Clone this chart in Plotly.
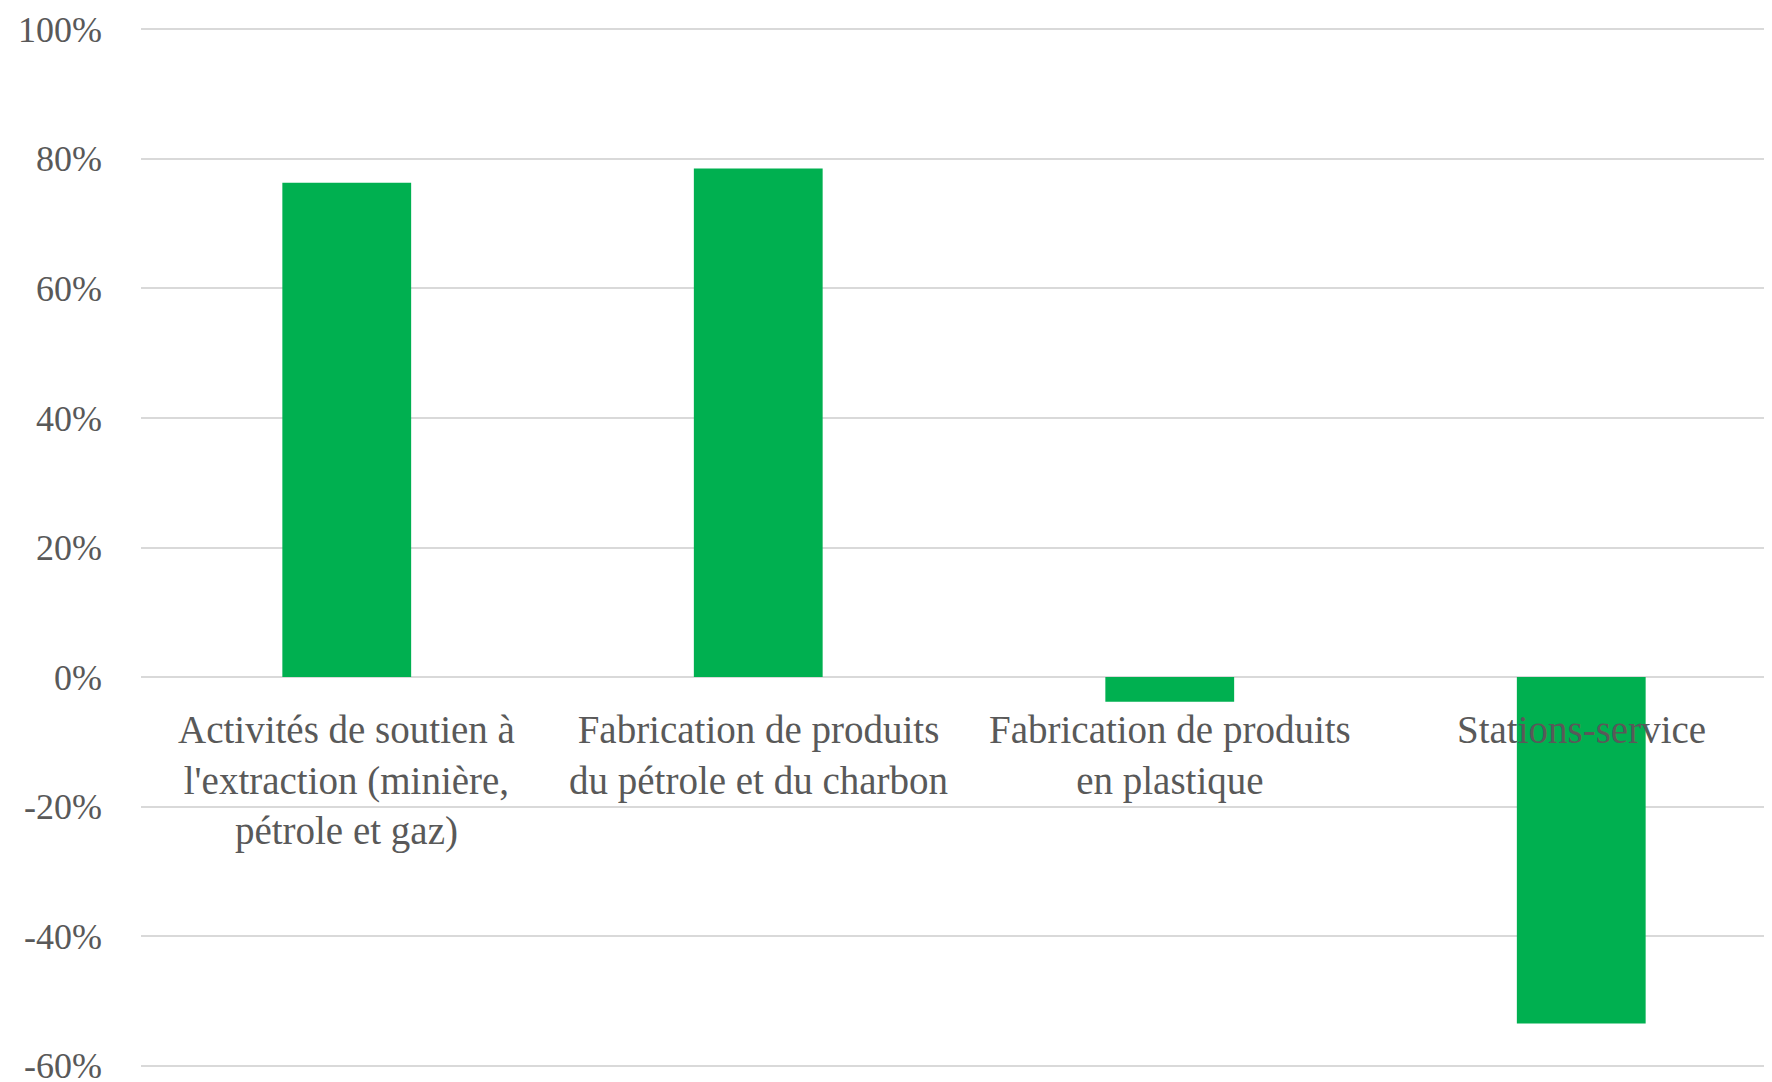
import plotly.graph_objects as go

# data
categories = [
    "Activités de soutien à<br>l'extraction (minière,<br>pétrole et gaz)",
    "Fabrication de produits<br>du pétrole et du charbon",
    "Fabrication de produits<br>en plastique",
    "Stations-service",
]
values = [0.763, 0.785, -0.038, -0.535]
tick_vals = [-0.6, -0.4, -0.2, 0.0, 0.2, 0.4, 0.6, 0.8, 1.0]
tick_text = ["-60%", "-40%", "-20%", "0%", "20%", "40%", "60%", "80%", "100%"]

FONT = "Liberation Serif"
TEXT_COLOR = "#595959"
GRID_COLOR = "#d9d9d9"
BAR_COLOR = "#00b050"


def create_plot():
    """Bar chart with category labels hung just under the zero line."""
    fig = go.Figure()
    fig.add_trace(go.Bar(
        x=list(range(len(values))),
        y=values,
        marker=dict(color=BAR_COLOR, line=dict(width=0)),
        width=0.313,
        hoverinfo="skip",
    ))

    # category labels sit under the zero line, like the Excel original
    for i, label in enumerate(categories):
        fig.add_annotation(
            x=i, y=0, xref="x", yref="y",
            text=label, showarrow=False,
            xanchor="center", yanchor="top", align="center",
            yshift=-29,
            font=dict(family=FONT, size=39, color=TEXT_COLOR),
        )

    # page body adds an 8px offset, margins compensate for it
    fig.update_layout(
        width=1772,
        height=1082,
        margin=dict(l=133, r=0, t=20, b=23),
        plot_bgcolor="white",
        paper_bgcolor="white",
        showlegend=False,
        font=dict(family=FONT, color=TEXT_COLOR),
    )
    fig.update_xaxes(
        range=[-0.5, 3.483],
        showticklabels=False,
        showgrid=False,
        zeroline=False,
        showline=False,
    )
    fig.update_yaxes(
        range=[-0.602, 1.002],
        tickvals=tick_vals,
        ticktext=tick_text,
        tickfont=dict(family=FONT, size=36, color=TEXT_COLOR),
        ticklabelstandoff=38,
        showgrid=True,
        gridcolor=GRID_COLOR,
        gridwidth=1.5,
        zeroline=True,
        zerolinecolor=GRID_COLOR,
        zerolinewidth=1.5,
        showline=False,
    )
    return fig


if __name__ == "__main__":
    fig = create_plot()
    fig.write_html("out.html")
